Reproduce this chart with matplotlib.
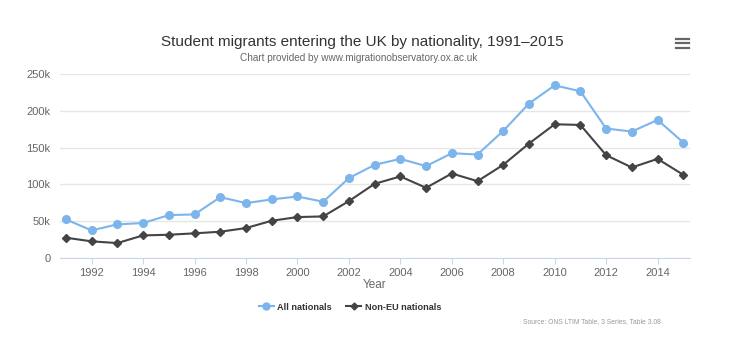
import matplotlib
matplotlib.use("Agg")
import matplotlib.pyplot as plt
from matplotlib.lines import Line2D

plt.rcParams["font.family"] = ["Liberation Sans", "DejaVu Sans"]

# ── Data ─────────────────────────────────────────────────────────────────
years = list(range(1991, 2016))
all_nationals = [52.4, 37.5, 45.7, 47.5, 58.3, 59.2, 82.7, 74.6, 79.6, 83.6,
                 76.4, 108.5, 126.6, 134.7, 124.8, 142.4, 140.6, 172.7, 209.8,
                 234.6, 226.5, 175.9, 171.8, 187.6, 156.9]
non_eu = [27.6, 22.6, 20.3, 30.7, 31.6, 33.5, 35.7, 40.7, 50.6, 55.6,
          56.5, 77.3, 100.8, 110.8, 95.4, 114.8, 104.4, 126.6, 155.5,
          181.7, 180.8, 139.7, 123.0, 134.7, 113.0]
y_ticks = [0, 50, 100, 150, 200, 250]
y_labels = ["0", "50k", "100k", "150k", "200k", "250k"]
x_ticks = list(range(1992, 2015, 2))

BLUE = "#7cb5ec"
DARK = "#434348"
W, H = 755, 350

fig = plt.figure(figsize=(W / 100, H / 100), dpi=100)
# plot area in pixels: left 60, right 690, top 74, bottom 258
ax = fig.add_axes([60 / W, 1 - 258 / H, 630 / W, 184 / H])

ax.plot(years, all_nationals, color=BLUE, lw=1.5, marker="o", ms=5.5,
        zorder=3, clip_on=False)
ax.plot(years, non_eu, color=DARK, lw=1.5, marker="D", ms=3.8,
        zorder=3, clip_on=False)

ax.set_xlim(1990.77, 2015.26)
ax.set_ylim(0, 250)
ax.set_yticks(y_ticks)
ax.set_yticklabels(y_labels)
ax.set_xticks(x_ticks)
ax.grid(axis="y", color="#e6e6e6", lw=1)
ax.set_axisbelow(True)
for side in ["top", "right", "left"]:
    ax.spines[side].set_visible(False)
ax.spines["bottom"].set_color("#ccd6eb")
ax.tick_params(axis="y", length=0, pad=7, labelsize=8, labelcolor="#666666")
ax.tick_params(axis="x", length=4, color="#ccd6eb", pad=3, labelsize=8,
               labelcolor="#666666")
ax.set_xlabel("Year", fontsize=8.5, color="#666666", labelpad=1)

# ── Titles ───────────────────────────────────────────────────────────────
fig.text(362 / W, 1 - 42 / H,
         "Student migrants entering the UK by nationality, 1991\u20132015",
         ha="center", va="center", fontsize=11, color="#333333")
fig.text(359 / W, 1 - 58 / H,
         "Chart provided by www.migrationobservatory.ox.ac.uk",
         ha="center", va="center", fontsize=7.2, color="#666666")

# hamburger menu icon
for yy in (38.5, 43, 47.5):
    fig.add_artist(Line2D([676 / W, 689 / W], [1 - yy / H, 1 - yy / H],
                          color="#666666", lw=1.6))

# ── Legend ───────────────────────────────────────────────────────────────
handles = [
    Line2D([], [], color=BLUE, lw=1.5, marker="o", ms=5),
    Line2D([], [], color=DARK, lw=1.5, marker="D", ms=3.5),
]
fig.legend(handles, ["All nationals", "Non-EU nationals"], loc="center",
           bbox_to_anchor=(350 / W, 1 - 307 / H), ncol=2, frameon=False,
           handlelength=1.6, handletextpad=0.4, columnspacing=1.6,
           prop={"size": 6.6, "weight": "bold"}, labelcolor="#333333")

fig.text(661 / W, 1 - 321.5 / H, "Source: ONS LTIM Table, 3 Series, Table 3.08",
         ha="right", va="center", fontsize=4.9, color="#999999")

fig.savefig("out.png", dpi=100)
